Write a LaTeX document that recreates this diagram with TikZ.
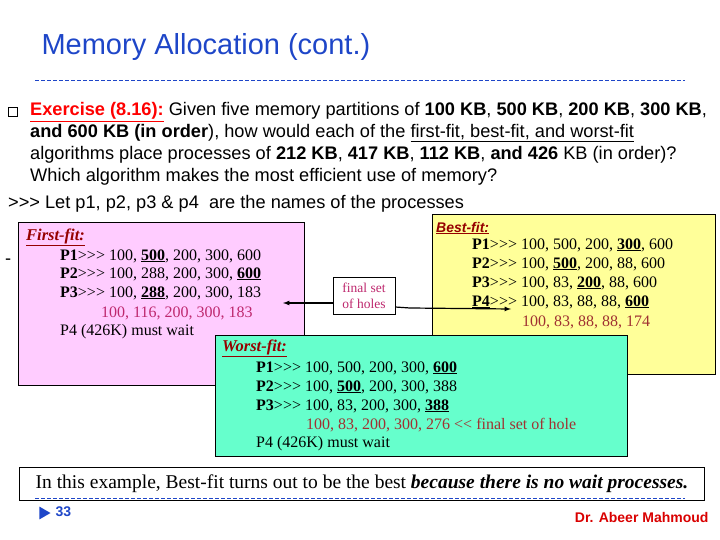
\documentclass[tikz,border=0pt]{standalone}
\usepackage{fontspec}
\usetikzlibrary{shapes.geometric}
\setmainfont{Liberation Serif}
\newfontfamily\sans{Liberation Sans}
\newcommand{\uline}[1]{\underline{#1}}
\definecolor{ttl}{RGB}{30,70,200}
\definecolor{pinkb}{RGB}{255,204,255}
\definecolor{yelb}{RGB}{255,255,153}
\definecolor{grnb}{RGB}{102,255,204}
\definecolor{dred}{RGB}{150,0,0}
\definecolor{holec}{RGB}{190,40,110}
\definecolor{brn}{RGB}{160,50,50}
\begin{document}
\begin{tikzpicture}[x=1pt,y=-1pt,
  box/.style={draw=black,line width=0.6pt,anchor=north west,inner sep=0},
  txt/.style={anchor=west,inner sep=0,font=\fontsize{16}{18}\selectfont},
  stxt/.style={anchor=west,inner sep=0,font=\sans\fontsize{18.2}{20}\selectfont},
  lbl/.style={anchor=west,inner sep=0,font=\fontsize{16.5}{18}\selectfont\bfseries\itshape,text=dred}]
\useasboundingbox (0,0) rectangle (720,540);
\node[anchor=west,text=ttl,font=\sans\fontsize{29}{32}\selectfont] (title) at (38,47) {Memory Allocation (cont.)};
\draw[ttl,dashed,line width=0.8pt,dash pattern=on 4pt off 2pt] (35,80) -- (685,80);
\node[draw,minimum size=9pt,inner sep=0,line width=0.5pt] (bul) at (13,112) {};
\node[stxt] (l1) at (30,112) {\textbf{\color{red}\uline{Exercise (8.16):}} Given five memory partitions of \textbf{100 KB}, \textbf{500 KB}, \textbf{200 KB}, \textbf{300 KB},};
\node[stxt] (l2) at (30,133) {\textbf{and 600 KB (in order}), how would each of the \uline{first-fit, best-fit, and worst-fit}};
\node[stxt] (l3) at (30,155) {algorithms place processes of \textbf{212 KB}, \textbf{417 KB}, \textbf{112 KB}, \textbf{and 426} KB (in order)?};
\node[stxt] (l4) at (30,177) {Which algorithm makes the most efficient use of memory?};
\node[stxt] (l5) at (8,204) {>>> Let p1, p2, p3 \& p4 \ are the names of the processes};
\node[stxt] (dash) at (5,262) {-};
% pink
\node[box,fill=pinkb,minimum width=286,minimum height=163] (pink) at (18,222) {};
\node[lbl] (ff) at (26,237) {\uline{First-fit:}};
\node[txt] (f1) at (60,256) {\textbf{P1}>{}>{}> 100, \textbf{\uline{500}}, 200, 300, 600};
\node[txt] (f2) at (60,274) {\textbf{P2}>{}>{}> 100, 288, 200, 300, \textbf{\uline{600}}};
\node[txt] (f3) at (60,293) {\textbf{P3}>{}>{}> 100, \textbf{\uline{288}}, 200, 300, 183};
\node[txt,text=holec] (f4) at (101,313) {100, 116, 200, 300, 183};
\node[txt] (f5) at (60,332) {P4 (426K) must wait};
% yellow
\node[box,fill=yelb,minimum width=283,minimum height=160] (yel) at (432,214) {};
\node[lbl,font=\sans\fontsize{14}{16}\selectfont\bfseries\itshape] (bf) at (436,228) {\uline{Best-fit:}};
\node[txt] (b1) at (472,245) {\textbf{P1}>{}>{}> 100, 500, 200, \textbf{\uline{300}}, 600};
\node[txt] (b2) at (472,264) {\textbf{P2}>{}>{}> 100, \textbf{\uline{500}}, 200, 88, 600};
\node[txt] (b3) at (472,283) {\textbf{P3}>{}>{}> 100, 83, \textbf{\uline{200}}, 88, 600};
\node[txt] (b4) at (472,302) {\textbf{\uline{P4}}>{}>{}> 100, 83, 88, 88, \textbf{\uline{600}}};
\node[txt,text=brn] (b5) at (522,322) {100, 83, 88, 88, 174};
% green
\node[box,fill=grnb,minimum width=412,minimum height=121] (grn) at (215,335) {};
\node[lbl] (wf) at (222,348) {\uline{Worst-fit:}};
\node[txt] (w1) at (256,368) {\textbf{P1}>{}>{}> 100, 500, 200, 300, \textbf{\uline{600}}};
\node[txt] (w2) at (256,387) {\textbf{P2}>{}>{}> 100, \textbf{\uline{500}}, 200, 300, 388};
\node[txt] (w3) at (256,406) {\textbf{P3}>{}>{}> 100, 83, 200, 300, \textbf{\uline{388}}};
\node[txt,text=brn] (w4) at (306,425) {100, 83, 200, 300, 276 <{}< final set of hole};
\node[txt] (w5) at (256,444) {P4 (426K) must wait};
% final set
\node[draw,fill=white,align=center,text=holec,font=\fontsize{13.5}{16}\selectfont,minimum width=62,minimum height=37,inner sep=1pt] (fs) at (364,296) {final set\\of holes};
\coordinate (la) at (283,303);
\coordinate (ra) at (511,309);
\draw[line width=1.2pt,-latex] (fs.west|-la) -- (la);
\draw[line width=1.2pt,-latex] (fs.east|-0,307) -- (410,308) -- (ra);
% bottom
\node[draw,line width=0.6pt,minimum width=685,minimum height=33,anchor=center,font=\fontsize{19.5}{22}\selectfont] (concl) at (362,484) {In this example, Best-fit turns out to be the best \textbf{\itshape because there is no wait processes.}};
\draw[ttl,dashed,dash pattern=on 4pt off 2pt] (35,498) -- (685,498);
\node[fill=ttl,regular polygon,regular polygon sides=3,shape border rotate=-90,inner sep=0,minimum size=15] (tri) at (43,513) {};
\node[anchor=west,text=ttl,font=\sans\bfseries\fontsize{14}{16}\selectfont] (pg) at (52,512) {33};
\node[anchor=east,text=red!85!black,font=\sans\bfseries\fontsize{14}{16}\selectfont] (auth) at (712,517) {Dr. Abeer Mahmoud};
\end{tikzpicture}
\end{document}
